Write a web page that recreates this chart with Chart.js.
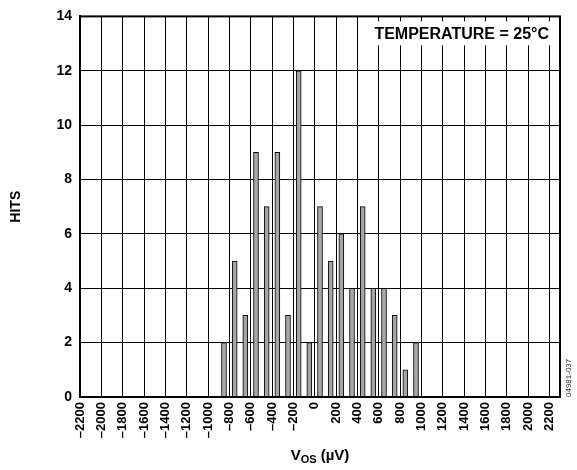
<!DOCTYPE html>
<html><head><meta charset="utf-8">
<script src="https://cdn.jsdelivr.net/npm/chart.js@4.4.1/dist/chart.umd.min.js"></script>
<style>html,body{margin:0;padding:0;background:#fff;}#wrap{width:577px;height:470px;position:relative;}</style>
</head><body><div id="wrap"><canvas id="c" width="577" height="470"></canvas></div>
<script>
// ---- data ----
const binCenters = [-850, -750, -650, -550, -450, -350, -250, -150, -50, 50, 150, 250, 350, 450, 550, 650, 750, 850, 950];
const hits       = [2, 5, 3, 9, 7, 9, 3, 12, 2, 7, 5, 6, 4, 7, 4, 4, 3, 1, 2];
const xTickValues = [-2200, -2000, -1800, -1600, -1400, -1200, -1000, -800, -600, -400, -200, 0, 200, 400, 600, 800, 1000, 1200, 1400, 1600, 1800, 2000, 2200];
const yTickValues = [0, 2, 4, 6, 8, 10, 12, 14];
const xRange = [-2200, 2300];
const yRange = [0, 14];
const yTitle = 'HITS';
const xTitleMain = 'V', xTitleSub = 'OS', xTitleRest = ' (µV)';
const annotationText = 'TEMPERATURE = 25°C';
const figureId = '04981-037';

const FONT = '"Liberation Sans", Arial, Helvetica, sans-serif';
Chart.defaults.font.family = FONT;
Chart.defaults.color = '#000';

function fmt(v){ return v < 0 ? '\u2013' + Math.abs(v) : String(v); }

const decorPlugin = {
  id: 'decor',
  afterDraw(chart){
    const ctx = chart.ctx, a = chart.chartArea;
    ctx.save();
    // annotation box
    ctx.font = 'bold 16px ' + FONT;
    const tw = ctx.measureText(annotationText).width;
    const bx = a.right - tw - 18, by = a.top + 5, bw = tw + 14, bh = 24;
    ctx.fillStyle = '#fff';
    ctx.fillRect(bx, by, bw, bh);
    ctx.fillStyle = '#000';
    ctx.textBaseline = 'middle';
    ctx.textAlign = 'left';
    ctx.fillText(annotationText, bx + 7, by + bh/2 + 1);
    // frame
    ctx.strokeStyle = '#000';
    ctx.lineWidth = 2;
    ctx.strokeRect(a.left, a.top, a.right - a.left, a.bottom - a.top);
    // x title with subscript
    const fMain = 'bold 15px ' + FONT, fSub = 'bold 11px ' + FONT;
    ctx.font = fMain; const w1 = ctx.measureText(xTitleMain).width;
    ctx.font = fSub;  const w2 = ctx.measureText(xTitleSub).width;
    ctx.font = fMain; const w3 = ctx.measureText(xTitleRest).width;
    const total = w1 + w2 + w3;
    let x = (a.left + a.right)/2 - total/2;
    const base = chart.height - 10;
    ctx.textBaseline = 'alphabetic';
    ctx.font = fMain; ctx.fillText(xTitleMain, x, base); x += w1;
    ctx.font = fSub; ctx.fillText(xTitleSub, x, base + 3); x += w2;
    ctx.font = fMain; ctx.fillText(xTitleRest, x, base);
    // figure id
    ctx.translate(a.right + 9, a.bottom);
    ctx.rotate(-Math.PI/2);
    ctx.font = '8px ' + FONT;
    ctx.fillStyle = '#333';
    ctx.textBaseline = 'middle';
    ctx.textAlign = 'left';
    ctx.fillText(figureId, 0, 0);
    ctx.restore();
  }
};

new Chart(document.getElementById('c'), {
  type: 'bar',
  data: {
    datasets: [{
      data: binCenters.map((c, i) => ({x: c, y: hits[i]})),
      backgroundColor: '#a6a6a6',
      borderColor: '#000',
      borderWidth: 1,
      borderSkipped: 'start',
      barThickness: 5
    }]
  },
  options: {
    responsive: false,
    animation: false,
    devicePixelRatio: 1,
    layout: {padding: {left: 0, top: 14, right: 17, bottom: 0}},
    plugins: {legend: {display: false}, tooltip: {enabled: false}},
    scales: {
      x: {
        type: 'linear', min: xRange[0], max: xRange[1], offset: false,
        afterBuildTicks: s => { s.ticks = xTickValues.map(v => ({value: v})); },
        afterFit: s => { s.height = 73; },
        grid: {color: '#000', lineWidth: 1, drawTicks: false, offset: false},
        border: {display: true, color: '#000', width: 2},
        ticks: {autoSkip: false, maxRotation: 90, minRotation: 90, padding: 5,
                font: {size: 13, weight: 'bold'}, callback: v => fmt(v)}
      },
      y: {
        type: 'linear', min: yRange[0], max: yRange[1],
        afterBuildTicks: s => { s.ticks = yTickValues.map(v => ({value: v})); },
        afterFit: s => { s.width = 80; },
        grid: {color: '#000', lineWidth: 1, drawTicks: false},
        border: {display: true, color: '#000', width: 2},
        ticks: {padding: 8, font: {size: 14, weight: 'bold'}, callback: v => fmt(v)},
        title: {display: true, text: yTitle, font: {size: 14, weight: 'bold'}, padding: {top: 8, bottom: 0}}
      }
    }
  },
  plugins: [decorPlugin]
});
</script></body></html>
